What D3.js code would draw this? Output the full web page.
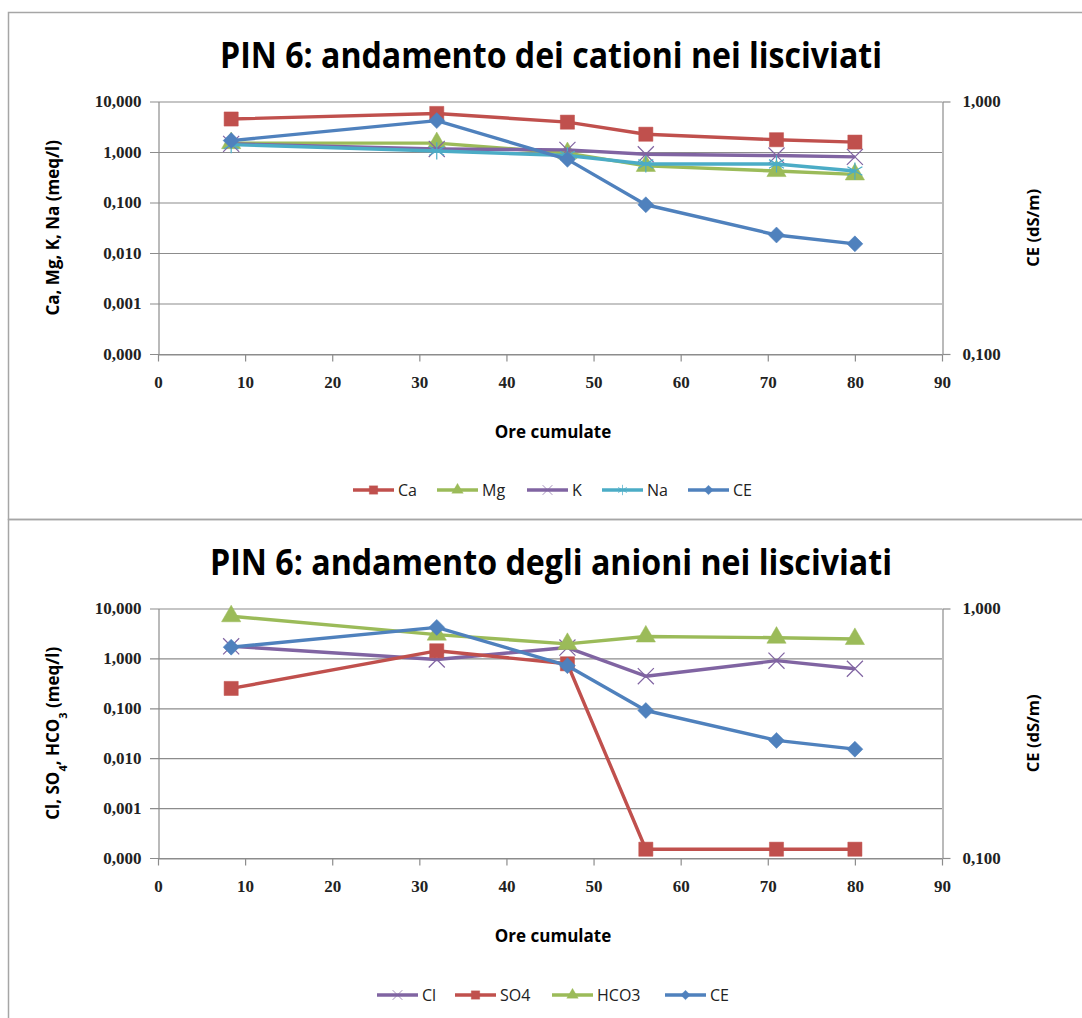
<!DOCTYPE html>
<html>
<head>
<meta charset="utf-8">
<script src="https://cdn.jsdelivr.net/npm/d3@7"></script>
<style>
  body { margin: 0; background: #fff; }
  svg { display: block; }
</style>
</head>
<body>
<script>
// ore cumulate (x)
const hours = [8.4, 32, 47, 56, 71, 80];

// cationi (meq/l)
const ca = [4.5, 5.8, 3.9, 2.25, 1.75, 1.57];
const mg = [1.5, 1.5, 0.95, 0.53, 0.42, 0.36];
const k  = [1.45, 1.15, 1.1, 0.9, 0.85, 0.8];
const na = [1.4, 1.05, 0.85, 0.58, 0.58, 0.42];

// anioni (meq/l)
const cl   = [1.75, 0.95, 1.65, 0.44, 0.9, 0.62];
const so4  = [0.25, 1.42, 0.78, 0.00015, 0.00015, 0.00015];
const hco3 = [7.0, 3.0, 1.95, 2.75, 2.6, 2.45];

// conducibilita' elettrica (dS/m), asse secondario
const ce = [0.70, 0.84, 0.59, 0.39, 0.296, 0.273];

const xTicks = [0, 10, 20, 30, 40, 50, 60, 70, 80, 90];
const leftTicks = [0.0001, 0.001, 0.01, 0.1, 1, 10];
const rightTicks = [0.1, 1];

const W = 1082, H = 1018;
const colors = { red: '#C0504D', green: '#9BBB59', purple: '#8064A2', cyan: '#4BACC6', blue: '#4F81BD' };
const fmt = d3.formatLocale({ decimal: ',', thousands: '.', grouping: [3], currency: ['', ''] }).format('.3f');
const sans = 'Open Sans, sans-serif';

const svg = d3.select('body').append('svg')
  .attr('width', W)
  .attr('height', H);

// cornici dei due grafici
svg.append('rect').attr('x', 8.5).attr('y', 12.5).attr('width', 1100).attr('height', 507)
  .attr('fill', 'none').attr('stroke', '#a6a6a6').attr('stroke-width', 1.5);
svg.append('rect').attr('x', 8.5).attr('y', 519.5).attr('width', 1100).attr('height', 600)
  .attr('fill', 'none').attr('stroke', '#a6a6a6').attr('stroke-width', 1.5);

function markerPath(type) {
  switch (type) {
    case 'square': return d3.symbol(d3.symbolSquare, 200)();
    case 'triangle': return d3.symbol(d3.symbolTriangle, 160)();
    case 'diamond': return 'M0,-8L8,0L0,8L-8,0Z';
    case 'x': return d3.symbol(d3.symbolTimes, 170)();
    case 'star': return d3.symbol(d3.symbolAsterisk, 210)();
  }
}

function drawMarker(g, type, color) {
  const stroked = type === 'x' || type === 'star';
  g.append('path')
    .attr('d', markerPath(type))
    .attr('fill', stroked ? 'none' : color)
    .attr('stroke', color)
    .attr('stroke-width', stroked ? 1.2 : 0.5);
}

function drawChart(cfg) {
  const g = svg.append('g');
  const x = d3.scaleLinear().domain([0, 90]).range([158, 942]);
  const yL = d3.scaleLog().domain([0.0001, 10]).range([cfg.bottom, cfg.top]);
  const yR = d3.scaleLog().domain([0.1, 1]).range([cfg.bottom, cfg.top]);

  // titolo
  g.append('text')
    .attr('x', 551).attr('y', cfg.titleY)
    .attr('text-anchor', 'middle')
    .attr('font-family', sans)
    .attr('font-weight', 'bold')
    .attr('font-size', 35)
    .attr('textLength', cfg.titleLen)
    .attr('lengthAdjust', 'spacingAndGlyphs')
    .text(cfg.title);

  // griglia
  g.append('g').selectAll('line')
    .data(leftTicks)
    .join('line')
      .attr('x1', 150).attr('x2', 942)
      .attr('y1', d => yL(d) + 0.5).attr('y2', d => yL(d) + 0.5)
      .attr('stroke', '#8c8c8c').attr('stroke-width', 1.2);

  // assi
  const axisStyle = sel => {
    sel.select('.domain').attr('stroke', '#8c8c8c').attr('stroke-width', 1.2);
    sel.selectAll('.tick line').attr('stroke', '#8c8c8c').attr('stroke-width', 1.2);
    sel.selectAll('.tick text')
      .attr('font-family', 'Liberation Serif, serif')
      .attr('font-weight', 'bold')
      .attr('font-size', 17)
      .attr('fill', '#222');
  };

  g.append('g')
    .attr('transform', `translate(0,${cfg.bottom + 0.5})`)
    .call(d3.axisBottom(x).tickValues(xTicks).tickSize(7).tickSizeOuter(0).tickPadding(14).tickFormat(d3.format('d')))
    .call(axisStyle);

  g.append('g')
    .attr('transform', 'translate(158.5,0)')
    .call(d3.axisLeft(yL).tickValues(leftTicks).tickSize(0).tickSizeOuter(0).tickPadding(17).tickFormat(fmt))
    .call(axisStyle);

  g.append('g')
    .attr('transform', 'translate(942.5,0)')
    .call(d3.axisRight(yR).tickValues(rightTicks).tickSize(8).tickSizeOuter(0).tickPadding(12).tickFormat(fmt))
    .call(axisStyle);

  // titoli degli assi
  const ylab = g.append('text')
    .attr('transform', `translate(59,${(cfg.top + cfg.bottom) / 2}) rotate(-90)`)
    .attr('text-anchor', 'middle')
    .attr('font-family', sans)
    .attr('font-weight', 'bold')
    .attr('font-size', 17);
  cfg.yLabel.forEach(p => {
    const t = ylab.append('tspan').text(p.t);
    if (p.sub) t.attr('baseline-shift', 'sub').attr('font-size', 11);
  });

  g.append('text')
    .attr('transform', `translate(1039,${(cfg.top + cfg.bottom) / 2}) rotate(-90)`)
    .attr('text-anchor', 'middle')
    .attr('font-family', sans)
    .attr('font-weight', 'bold')
    .attr('font-size', 16.5)
    .text('CE (dS/m)');

  g.append('text')
    .attr('x', 553).attr('y', cfg.bottom + 84)
    .attr('text-anchor', 'middle')
    .attr('font-family', sans)
    .attr('font-weight', 'bold')
    .attr('font-size', 17)
    .text('Ore cumulate');

  // serie
  cfg.series.forEach(s => {
    const y = s.axis === 'right' ? yR : yL;
    const pts = hours.map((h, i) => [x(h), y(s.values[i])]);
    g.append('path')
      .attr('d', d3.line()(pts))
      .attr('fill', 'none')
      .attr('stroke', s.color)
      .attr('stroke-width', 3.4)
      .attr('stroke-linejoin', 'round');
    pts.forEach(p => {
      const m = g.append('g').attr('transform', `translate(${p[0]},${p[1]})`);
      drawMarker(m, s.marker, s.color);
    });
  });

  // legenda
  cfg.series.forEach((s, i) => {
    const lx = cfg.legendX[i];
    const lg = g.append('g').attr('transform', `translate(${lx},${cfg.legendY})`);
    lg.append('line').attr('x1', 0).attr('x2', 41)
      .attr('stroke', s.color).attr('stroke-width', 3.4);
    const m = lg.append('g').attr('transform', 'translate(20.5,0) scale(0.6)');
    drawMarker(m, s.marker, s.color);
    lg.append('text')
      .attr('x', 45).attr('y', 6)
      .attr('font-family', sans)
      .attr('font-size', 16)
      .attr('fill', '#222')
      .text(s.name);
  });
}

drawChart({
  title: 'PIN 6: andamento dei cationi nei lisciviati',
  titleY: 68, titleLen: 662,
  top: 101.5, bottom: 354,
  yLabel: [{ t: 'Ca, Mg, K, Na (meq/l)' }],
  legendY: 490,
  legendX: [353, 437, 527, 602, 688],
  series: [
    { name: 'Ca', values: ca, color: colors.red, marker: 'square' },
    { name: 'Mg', values: mg, color: colors.green, marker: 'triangle' },
    { name: 'K', values: k, color: colors.purple, marker: 'x' },
    { name: 'Na', values: na, color: colors.cyan, marker: 'star' },
    { name: 'CE', values: ce, color: colors.blue, marker: 'diamond', axis: 'right' }
  ]
});

drawChart({
  title: 'PIN 6: andamento degli anioni nei lisciviati',
  titleY: 575, titleLen: 682,
  top: 608.5, bottom: 858,
  yLabel: [{ t: 'Cl, SO' }, { t: '4', sub: true }, { t: ', HCO' }, { t: '3', sub: true }, { t: ' (meq/l)' }],
  legendY: 995,
  legendX: [377, 455, 552, 665],
  series: [
    { name: 'Cl', values: cl, color: colors.purple, marker: 'x' },
    { name: 'SO4', values: so4, color: colors.red, marker: 'square' },
    { name: 'HCO3', values: hco3, color: colors.green, marker: 'triangle' },
    { name: 'CE', values: ce, color: colors.blue, marker: 'diamond', axis: 'right' }
  ]
});
</script>
</body>
</html>
